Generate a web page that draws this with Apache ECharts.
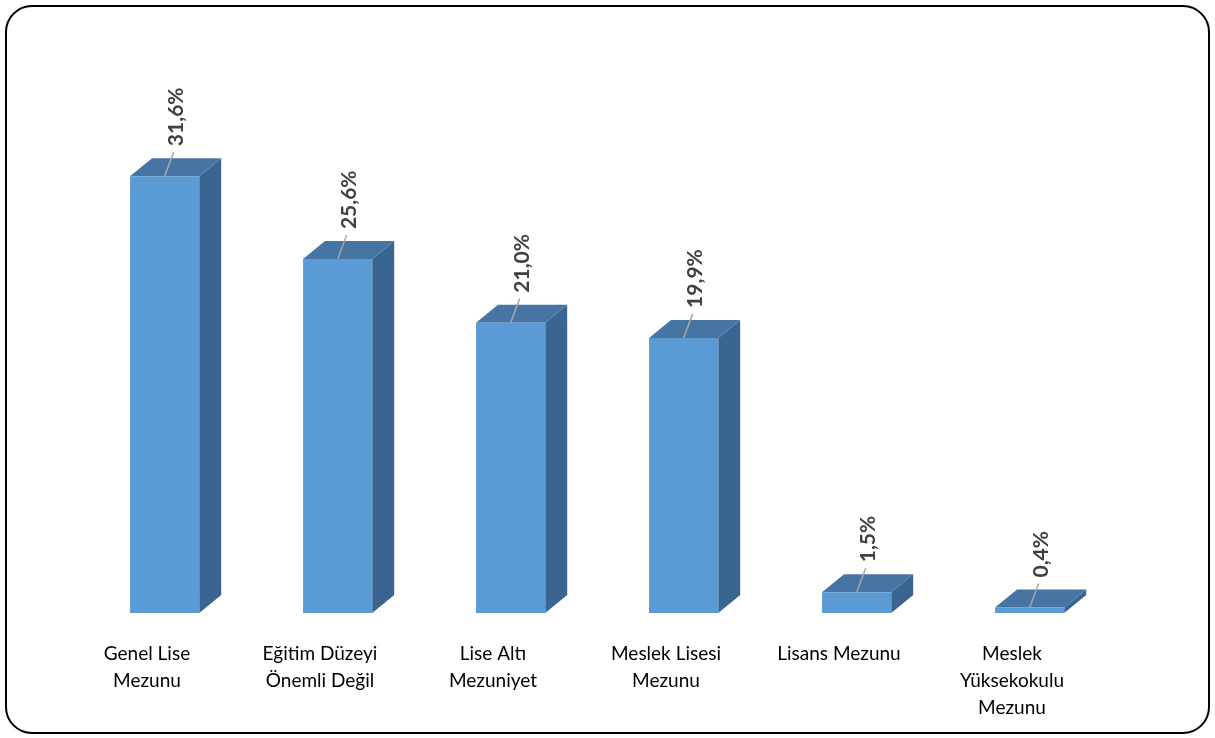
<!DOCTYPE html>
<html><head><meta charset="utf-8">
<script src="https://cdn.jsdelivr.net/npm/echarts@6/dist/echarts.min.js"></script>
<style>html,body{margin:0;padding:0;background:#fff}#c{width:1215px;height:738px}</style>
</head><body><div id="c"></div>
<script>
const categories = ['Genel Lise\nMezunu','Eğitim Düzeyi\nÖnemli Değil','Lise Altı\nMezuniyet','Meslek Lisesi\nMezunu','Lisans Mezunu','Meslek\nYüksekokulu\nMezunu'];
const values = [31.6, 25.6, 21.0, 19.9, 1.5, 0.4];
const labels = ['31,6%','25,6%','21,0%','19,9%','1,5%','0,4%'];

const chart = echarts.init(document.getElementById('c'));
const FRONT = '#5B9BD5', TOP = '#4675A4', SIDE = '#3A6590';
chart.setOption({
  animation: false,
  grid: {left: 60.5, width: 1038, top: 60, bottom: 125},
  xAxis: {type: 'category', data: categories, axisLine: {show: false}, axisTick: {show: false},
    axisLabel: {interval: 0, margin: 27, fontFamily: 'Lato', fontSize: 19, color: '#000', lineHeight: 27}},
  yAxis: {type: 'value', min: 0, max: 40, show: false, splitLine: {show: false}},
  series: [{
    type: 'custom',
    data: values.map((v, i) => [i, v]),
    renderItem: function (params, api) {
      const i = api.value(0), v = api.value(1);
      const top = api.coord([i, v]);
      const base = api.coord([i, 0]);
      const bw = api.size([1, 0])[0];
      const cx = top[0];
      const l = cx - 0.098 * bw, w = 0.4 * bw, r = l + w;
      const dx = 0.127 * bw, dy = 0.104 * bw;
      const yt = top[1], yb = base[1];
      const fc = l + w / 2;
      return {type: 'group', children: [
        {type: 'polygon', shape: {points: [[r, yt], [r + dx, yt - dy], [r + dx, yb - dy], [r, yb]]}, style: {fill: SIDE}},
        {type: 'polygon', shape: {points: [[l, yt], [l + dx, yt - dy], [r + dx, yt - dy], [r, yt]]}, style: {fill: TOP}},
        {type: 'rect', shape: {x: l, y: yt, width: w, height: yb - yt}, style: {fill: FRONT}},
        {type: 'line', shape: {x1: fc, y1: yt, x2: fc + 9, y2: yt - 24}, style: {stroke: '#A6A6A6', lineWidth: 1.5}},
        {type: 'text', x: fc + 12, y: yt - 30, rotation: Math.PI / 2,
          style: {text: labels[i], fontFamily: 'Lato', fontWeight: 'bold', fontSize: 21, fill: '#404040', align: 'left', verticalAlign: 'middle'}}
      ]};
    }
  }],
  graphic: [{type: 'rect', shape: {x: 6, y: 6, width: 1203, height: 727, r: 26}, style: {fill: 'none', stroke: '#000', lineWidth: 2}}]
});
</script></body></html>
